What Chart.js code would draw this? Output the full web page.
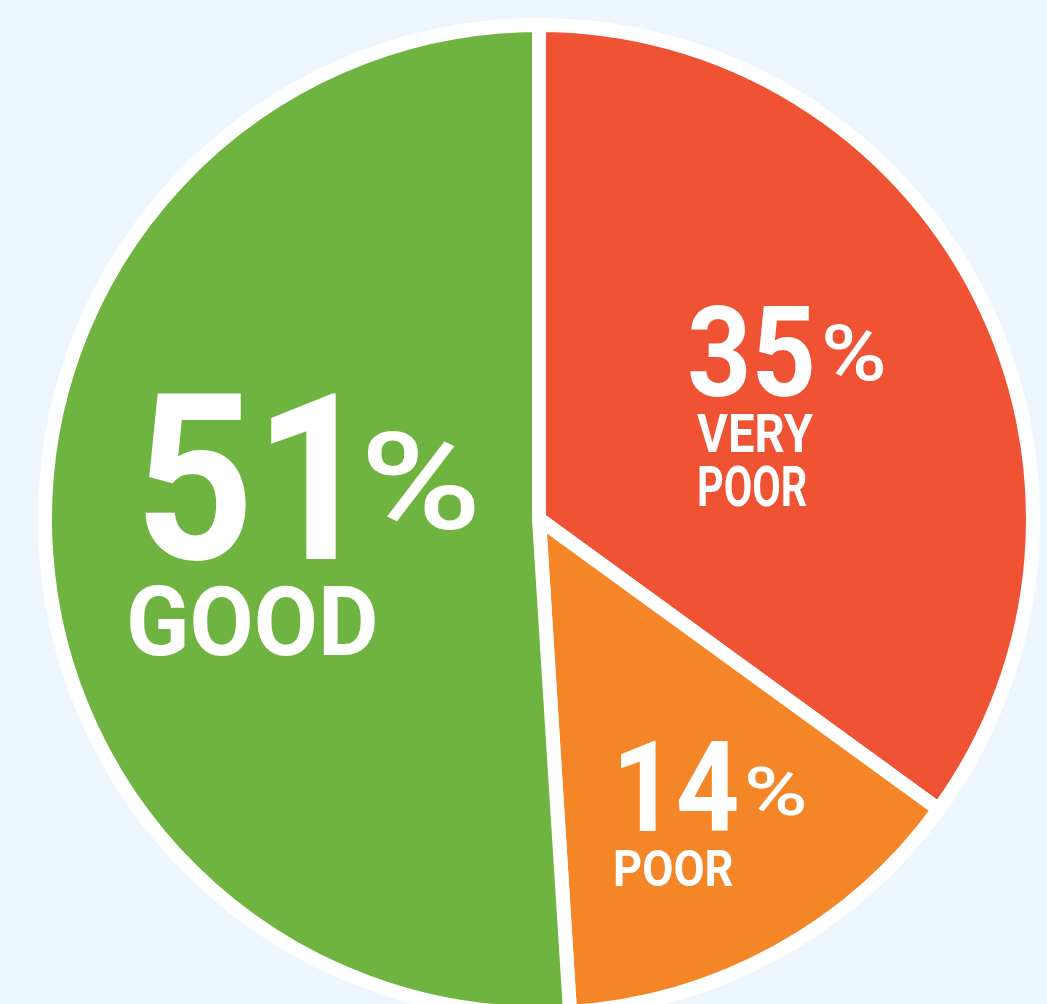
<!DOCTYPE html>
<html lang="en">
<head>
    <meta charset="UTF-8">
    <title>Condition pie</title>
    <style>
        body {
            margin: 0;
            background-color: #eef6fd;
            overflow: hidden;
            width: 1047px;
            height: 1004px;
            position: relative;
        }
        #pieBox {
            position: absolute;
            left: 38px;
            top: 18px;
            width: 1002px;
            height: 1002px;
        }
        .lbl {
            position: absolute;
            color: #fff;
            font-family: Roboto, "Liberation Sans", sans-serif;
            white-space: nowrap;
            transform-origin: 0 0;
        }
    </style>
</head>
<body>
    <div id="pieBox"><canvas id="pieChart" width="1002" height="1002"></canvas></div>

    <script src="https://cdn.jsdelivr.net/npm/chart.js"></script>
    <script>
        // data
        const categories = ['VERY POOR', 'POOR', 'GOOD'];
        const shares = [35, 14, 51];
        const sliceColors = ['#f05234', '#f48628', '#6fb441'];

        // label pieces: text, weight, ink box (left, top, width, height)
        const labelPieces = [
            ['51', 700, 145, 394, 192, 169],
            ['%', 500, 367, 432, 109, 100],
            ['GOOD', 700, 130, 586, 245, 71],
            ['35', 700, 690, 305, 122, 93],
            ['%', 500, 825, 325, 59, 57],
            ['VERY', 700, 697, 414, 116, 39],
            ['POOR', 700, 699, 467, 107, 40],
            ['14', 700, 621, 741, 116, 91],
            ['%', 500, 747, 766, 57, 50],
            ['POOR', 700, 616, 851, 117, 36]
        ];

        new Chart(document.getElementById('pieChart'), {
            type: 'pie',
            data: {
                labels: categories,
                datasets: [{
                    data: shares,
                    backgroundColor: sliceColors,
                    borderColor: '#ffffff',
                    borderWidth: 14
                }]
            },
            options: {
                responsive: false,
                animation: false,
                layout: { padding: 0 },
                plugins: {
                    legend: { display: false },
                    tooltip: { enabled: false }
                }
            }
        });

        // place text so its ink fits the box
        const mctx = document.createElement('canvas').getContext('2d');
        labelPieces.forEach(([text, weight, x, y, w, h]) => {
            mctx.font = weight + ' 100px Roboto';
            const m = mctx.measureText(text);
            const inkH = m.actualBoundingBoxAscent + m.actualBoundingBoxDescent;
            const size = h / inkH * 100;
            const k = size / 100;
            const inkW = (m.actualBoundingBoxLeft + m.actualBoundingBoxRight) * k;
            const sx = w / inkW;
            const fA = m.fontBoundingBoxAscent * k;
            const fD = m.fontBoundingBoxDescent * k;
            const baseline = (size - (fA + fD)) / 2 + fA;
            const baseY = y + m.actualBoundingBoxAscent * k;

            const el = document.createElement('div');
            el.className = 'lbl';
            el.textContent = text;
            el.style.fontWeight = weight;
            el.style.fontSize = size + 'px';
            el.style.lineHeight = size + 'px';
            el.style.top = (baseY - baseline) + 'px';
            el.style.left = (x + m.actualBoundingBoxLeft * k * sx) + 'px';
            el.style.transform = 'scaleX(' + sx + ')';
            document.body.appendChild(el);
        });
    </script>
</body>
</html>
